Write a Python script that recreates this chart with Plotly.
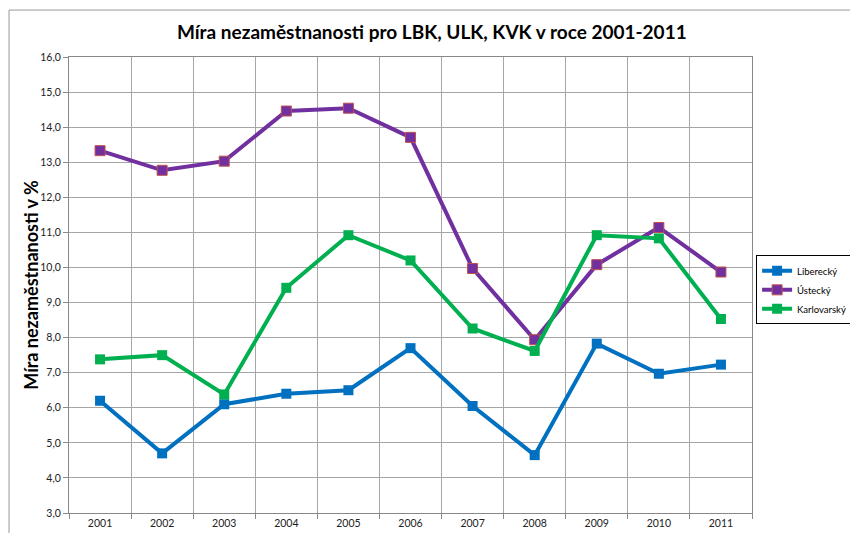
import plotly.graph_objects as go

years = ["2001", "2002", "2003", "2004", "2005", "2006", "2007", "2008", "2009", "2010", "2011"]
liberecky = [6.2, 4.7, 6.1, 6.4, 6.5, 7.7, 6.05, 4.65, 7.83, 6.97, 7.23]
ustecky = [13.33, 12.77, 13.03, 14.46, 14.54, 13.71, 9.97, 7.94, 10.08, 11.14, 9.87]
karlovarsky = [7.38, 7.5, 6.38, 9.42, 10.92, 10.2, 8.26, 7.62, 10.92, 10.83, 8.53]

fig = go.Figure()
fig.add_trace(go.Scatter(x=years, y=liberecky, name="Liberecký", mode="lines+markers",
                         line=dict(color="#0070C0", width=4),
                         marker=dict(symbol="square", size=10, color="#0070C0")))
fig.add_trace(go.Scatter(x=years, y=ustecky, name="Ústecký", mode="lines+markers",
                         line=dict(color="#7030A0", width=4),
                         marker=dict(symbol="square", size=10, color="#7030A0",
                                     line=dict(color="#C0504D", width=1))))
fig.add_trace(go.Scatter(x=years, y=karlovarsky, name="Karlovarský", mode="lines+markers",
                         line=dict(color="#00B050", width=4),
                         marker=dict(symbol="square", size=10, color="#00B050")))

fig.update_layout(
    width=850, height=533,
    margin=dict(l=69, r=98, t=57, b=20, autoexpand=False),
    paper_bgcolor="white", plot_bgcolor="white",
    separators=", ",
    font=dict(family="Lato, Open Sans, sans-serif", color="#222"),
    title=dict(text="<b>Míra nezaměstnanosti pro LBK, ULK, KVK v roce 2001-2011</b>",
               x=0.508, xanchor="center", y=0.94, yanchor="middle",
               font=dict(size=19, color="black")),
    showlegend=True,
    legend=dict(x=1.006, xanchor="left", y=0.565, yanchor="top",
                bordercolor="black", borderwidth=1, bgcolor="white",
                font=dict(size=9.5, color="black"), tracegroupgap=0, itemwidth=30),
    xaxis=dict(type="category", range=[-0.5, 10.5], tickson="boundaries", showgrid=True,
               automargin=False,
               gridcolor="#A6A6A6", gridwidth=1, showline=True, linecolor="#888",
               mirror=True, ticks="outside", ticklen=5, tickcolor="#888",
               tickfont=dict(size=10.5, color="#222")),
    yaxis=dict(range=[3, 16], dtick=1, tick0=3, tickformat=".1f", showgrid=True,
               automargin=False,
               gridcolor="#A6A6A6", gridwidth=1, showline=True, linecolor="#888",
               mirror=True, ticks="outside", ticklen=5, tickcolor="#888",
               zeroline=False, tickfont=dict(size=10.5, color="#222")),
    annotations=[dict(text="<b>Míra nezaměstnanosti v %</b>", xref="paper", yref="paper",
                      x=-0.056, y=0.5, xanchor="center", yanchor="middle", textangle=-90,
                      showarrow=False, font=dict(size=18, color="black"))],
    shapes=[dict(type="rect", xref="paper", yref="paper",
                 x0=-0.0878, x1=1.6, y0=-0.5, y1=1.103,
                 line=dict(color="#999", width=1), layer="below")],
)

fig.write_html("out.html", config={"displayModeBar": False},
               post_script="document.body.style.margin='0';")
